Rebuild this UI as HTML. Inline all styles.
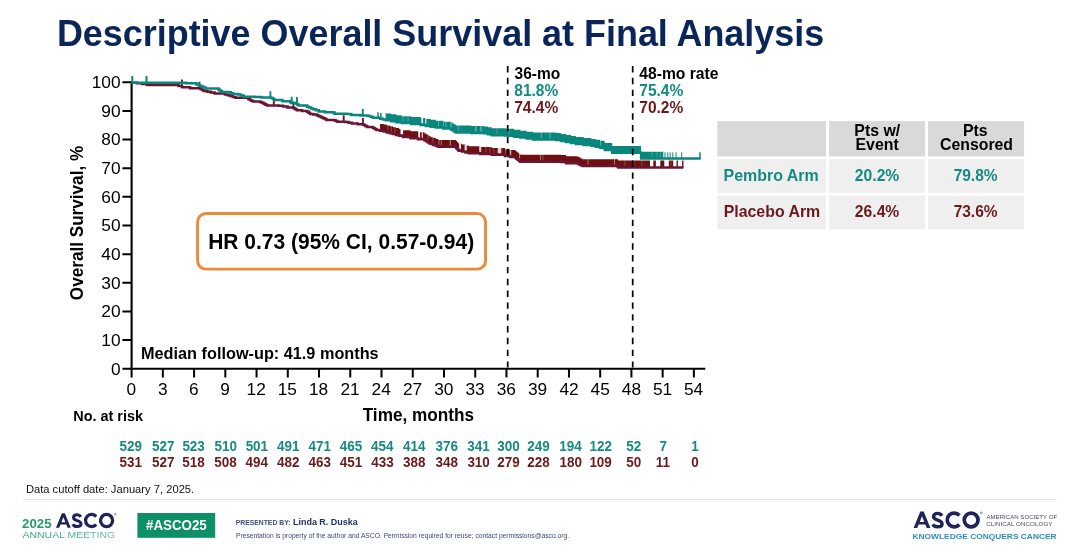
<!DOCTYPE html>
<html><head><meta charset="utf-8"><title>Descriptive Overall Survival at Final Analysis</title>
<style>
html,body{margin:0;padding:0;background:#fff;}
body{width:1080px;height:552px;overflow:hidden;}
svg{display:block;will-change:transform;font-family:"Liberation Sans",sans-serif;}
text{white-space:pre;}
</style></head><body>
<svg width="1080" height="552" viewBox="0 0 1080 552">
<rect width="1080" height="552" fill="#fff"/>
<text x="56.88" y="46.10" font-size="36.2" textLength="767.37" lengthAdjust="spacingAndGlyphs" fill="#0a2659" font-weight="bold">Descriptive Overall Survival at Final Analysis</text>
<path d="M131.60 81.30V369.70" stroke="#000" stroke-width="2.1" fill="none"/>
<path d="M130.60 368.70H705.3" stroke="#000" stroke-width="2.1" fill="none"/>
<path d="M122.40 368.70H131.60M122.40 340.06H131.60M122.40 311.42H131.60M122.40 282.78H131.60M122.40 254.14H131.60M122.40 225.50H131.60M122.40 196.86H131.60M122.40 168.22H131.60M122.40 139.58H131.60M122.40 110.94H131.60M122.40 82.30H131.60M131.60 368.70V377.50M162.84 368.70V377.50M194.08 368.70V377.50M225.32 368.70V377.50M256.56 368.70V377.50M287.79 368.70V377.50M319.03 368.70V377.50M350.27 368.70V377.50M381.51 368.70V377.50M412.75 368.70V377.50M443.99 368.70V377.50M475.23 368.70V377.50M506.47 368.70V377.50M537.71 368.70V377.50M568.95 368.70V377.50M600.19 368.70V377.50M631.42 368.70V377.50M662.66 368.70V377.50M693.90 368.70V377.50" stroke="#000" stroke-width="2" fill="none"/>
<text x="110.95" y="374.60" font-size="17.3" textLength="9.62" lengthAdjust="spacingAndGlyphs" fill="#000">0</text>
<text x="101.35" y="345.96" font-size="17.3" textLength="19.24" lengthAdjust="spacingAndGlyphs" fill="#000">10</text>
<text x="101.35" y="317.32" font-size="17.3" textLength="19.24" lengthAdjust="spacingAndGlyphs" fill="#000">20</text>
<text x="101.35" y="288.68" font-size="17.3" textLength="19.24" lengthAdjust="spacingAndGlyphs" fill="#000">30</text>
<text x="101.35" y="260.04" font-size="17.3" textLength="19.24" lengthAdjust="spacingAndGlyphs" fill="#000">40</text>
<text x="101.35" y="231.40" font-size="17.3" textLength="19.24" lengthAdjust="spacingAndGlyphs" fill="#000">50</text>
<text x="101.35" y="202.76" font-size="17.3" textLength="19.24" lengthAdjust="spacingAndGlyphs" fill="#000">60</text>
<text x="101.35" y="174.12" font-size="17.3" textLength="19.24" lengthAdjust="spacingAndGlyphs" fill="#000">70</text>
<text x="101.35" y="145.48" font-size="17.3" textLength="19.24" lengthAdjust="spacingAndGlyphs" fill="#000">80</text>
<text x="101.35" y="116.84" font-size="17.3" textLength="19.24" lengthAdjust="spacingAndGlyphs" fill="#000">90</text>
<text x="91.70" y="88.20" font-size="17.3" textLength="28.87" lengthAdjust="spacingAndGlyphs" fill="#000">100</text>
<text x="126.58" y="395.40" font-size="17.3" textLength="9.62" lengthAdjust="spacingAndGlyphs" fill="#000">0</text>
<text x="157.88" y="395.40" font-size="17.3" textLength="9.62" lengthAdjust="spacingAndGlyphs" fill="#000">3</text>
<text x="189.01" y="395.40" font-size="17.3" textLength="9.62" lengthAdjust="spacingAndGlyphs" fill="#000">6</text>
<text x="220.29" y="395.40" font-size="17.3" textLength="9.62" lengthAdjust="spacingAndGlyphs" fill="#000">9</text>
<text x="246.54" y="395.40" font-size="17.3" textLength="19.24" lengthAdjust="spacingAndGlyphs" fill="#000">12</text>
<text x="277.69" y="395.40" font-size="17.3" textLength="19.24" lengthAdjust="spacingAndGlyphs" fill="#000">15</text>
<text x="308.95" y="395.40" font-size="17.3" textLength="19.24" lengthAdjust="spacingAndGlyphs" fill="#000">18</text>
<text x="340.45" y="395.40" font-size="17.3" textLength="19.24" lengthAdjust="spacingAndGlyphs" fill="#000">21</text>
<text x="371.52" y="395.40" font-size="17.3" textLength="19.24" lengthAdjust="spacingAndGlyphs" fill="#000">24</text>
<text x="402.95" y="395.40" font-size="17.3" textLength="19.24" lengthAdjust="spacingAndGlyphs" fill="#000">27</text>
<text x="434.19" y="395.40" font-size="17.3" textLength="19.24" lengthAdjust="spacingAndGlyphs" fill="#000">30</text>
<text x="465.47" y="395.40" font-size="17.3" textLength="19.24" lengthAdjust="spacingAndGlyphs" fill="#000">33</text>
<text x="496.71" y="395.40" font-size="17.3" textLength="19.24" lengthAdjust="spacingAndGlyphs" fill="#000">36</text>
<text x="527.97" y="395.40" font-size="17.3" textLength="19.24" lengthAdjust="spacingAndGlyphs" fill="#000">39</text>
<text x="559.38" y="395.40" font-size="17.3" textLength="19.24" lengthAdjust="spacingAndGlyphs" fill="#000">42</text>
<text x="590.53" y="395.40" font-size="17.3" textLength="19.24" lengthAdjust="spacingAndGlyphs" fill="#000">45</text>
<text x="621.80" y="395.40" font-size="17.3" textLength="19.24" lengthAdjust="spacingAndGlyphs" fill="#000">48</text>
<text x="652.93" y="395.40" font-size="17.3" textLength="19.24" lengthAdjust="spacingAndGlyphs" fill="#000">51</text>
<text x="683.99" y="395.40" font-size="17.3" textLength="19.24" lengthAdjust="spacingAndGlyphs" fill="#000">54</text>
<text x="362.69" y="420.60" font-size="17.5" textLength="111.30" lengthAdjust="spacingAndGlyphs" fill="#000" font-weight="bold">Time, months</text>
<text transform="translate(82.7 300.19) rotate(-90)" font-size="17.6" font-weight="bold" textLength="154.36" lengthAdjust="spacingAndGlyphs">Overall Survival, %</text>
<text x="73.23" y="421.40" font-size="15" textLength="69.74" lengthAdjust="spacingAndGlyphs" fill="#000" font-weight="bold">No. at risk</text>
<text x="141.00" y="359.20" font-size="16.4" textLength="237.68" lengthAdjust="spacingAndGlyphs" fill="#000" font-weight="bold">Median follow-up: 41.9 months</text>
<text x="514.50" y="78.80" font-size="16" textLength="45.69" lengthAdjust="spacingAndGlyphs" fill="#000" font-weight="bold">36-mo</text>
<text x="514.35" y="95.70" font-size="16" textLength="43.85" lengthAdjust="spacingAndGlyphs" fill="#148a80" font-weight="bold">81.8%</text>
<text x="514.19" y="112.70" font-size="16" textLength="44.01" lengthAdjust="spacingAndGlyphs" fill="#6b191d" font-weight="bold">74.4%</text>
<text x="639.27" y="78.80" font-size="16" textLength="79.15" lengthAdjust="spacingAndGlyphs" fill="#000" font-weight="bold">48-mo rate</text>
<text x="639.24" y="95.70" font-size="16" textLength="44.06" lengthAdjust="spacingAndGlyphs" fill="#148a80" font-weight="bold">75.4%</text>
<text x="639.24" y="112.70" font-size="16" textLength="44.06" lengthAdjust="spacingAndGlyphs" fill="#6b191d" font-weight="bold">70.2%</text>
<rect x="197.55" y="213.45" width="288" height="55.7" rx="8.5" ry="8.5" fill="#fff" stroke="#ec8a3c" stroke-width="2.9"/>
<text x="208.18" y="249.00" font-size="21.2" textLength="265.98" lengthAdjust="spacingAndGlyphs" fill="#000" font-weight="bold">HR 0.73 (95% CI, 0.57-0.94)</text>
<path d="M380.0 123.2L380.1 123.2L380.1 123.9L383.8 123.9L383.8 124.6L386.8 124.6L386.8 125.5L389.9 125.5L389.9 126.3L392.9 126.3L392.9 127.2L396.0 127.2L396.0 128.0L399.0 128.0L399.0 128.9L403.0 128.9L403.0 130.2L410.5 130.2L410.5 131.3L418.0 131.3L418.0 132.3L424.5 132.3L424.5 133.4L426.1 133.4L426.1 134.3L427.6 134.3L427.6 135.3L429.2 135.3L429.2 136.3L430.8 136.3L430.8 137.2L433.3 137.2L433.3 138.1L435.9 138.1L435.9 139.0L438.4 139.0L438.4 139.9L456.2 139.9L456.2 141.0L457.0 141.0L457.0 141.9L457.9 141.9L457.9 142.9L458.7 142.9L458.7 143.8L462.1 143.8L462.1 144.6L465.5 144.6L465.5 145.5L468.9 145.5L468.9 146.3L480.3 146.3L480.3 147.1L491.7 147.1L491.7 147.9L505.0 147.9L505.0 149.2L510.1 149.2L510.1 150.0L515.3 150.0L515.3 150.7L516.3 150.7L516.3 151.5L517.3 151.5L517.3 152.3L518.3 152.3L518.3 153.2L519.3 153.2L519.3 154.0L520.3 154.0L520.3 154.8L560.9 154.8L560.9 155.0L566.0 155.0L566.0 156.3L577.4 156.3L577.4 156.7L579.1 156.7L579.1 157.5L580.8 157.5L580.8 158.4L582.5 158.4L582.5 159.2L616.7 159.2L616.7 158.7L617.5 158.7L617.5 159.7L618.3 159.7L618.3 160.6L650.0 160.6L650.0 167.5L618.3 167.5L618.3 166.6L617.5 166.6L617.5 165.6L616.7 165.6L616.7 166.1L582.5 166.1L582.5 165.3L580.8 165.3L580.8 164.4L579.1 164.4L579.1 163.6L577.4 163.6L577.4 163.2L566.0 163.2L566.0 161.9L560.9 161.9L560.9 161.7L520.3 161.7L520.3 160.9L519.3 160.9L519.3 160.1L518.3 160.1L518.3 159.2L517.3 159.2L517.3 158.4L516.3 158.4L516.3 157.6L515.3 157.6L515.3 156.9L510.1 156.9L510.1 156.1L505.0 156.1L505.0 154.8L491.7 154.8L491.7 154.0L480.3 154.0L480.3 153.2L468.9 153.2L468.9 152.4L465.5 152.4L465.5 151.5L462.1 151.5L462.1 150.7L458.7 150.7L458.7 149.8L457.9 149.8L457.9 148.8L457.0 148.8L457.0 147.9L456.2 147.9L456.2 146.8L438.4 146.8L438.4 145.9L435.9 145.9L435.9 145.0L433.3 145.0L433.3 144.1L430.8 144.1L430.8 143.2L429.2 143.2L429.2 142.2L427.6 142.2L427.6 141.2L426.1 141.2L426.1 140.3L424.5 140.3L424.5 139.2L418.0 139.2L418.0 138.2L410.5 138.2L410.5 137.1L403.0 137.1L403.0 135.8L399.0 135.8L399.0 134.9L396.0 134.9L396.0 134.1L392.9 134.1L392.9 133.2L389.9 133.2L389.9 132.4L386.8 132.4L386.8 131.5L383.8 131.5L383.8 130.8L380.1 130.8L380.1 130.1L380.0 130.1Z" fill="#6e1010"/>
<path d="M273.8 106.1v-6.9M293.4 108.4v-6.9M343.7 122.2v-6.9M362.9 124.8v-6.9" stroke="#6b1535" stroke-width="1.9" fill="none"/>
<path d="M654.0 168.0v-7.4M655.2 168.0v-7.4M661.0 168.0v-7.4M662.3 168.0v-7.4M663.6 168.0v-7.4M669.5 168.0v-7.4M671.0 168.0v-7.4M672.5 168.0v-7.4M677.2 168.0v-7.4M682.8 168.0v-7.4" stroke="#6e1010" stroke-width="1.4" fill="none"/>
<rect x="400.5" y="128.3" width="2.6" height="6.2" fill="#fff" fill-opacity="0.95"/><rect x="418.2" y="131.7" width="1.8" height="6.2" fill="#fff" fill-opacity="0.9"/><rect x="421.7" y="131.7" width="1.2" height="6.2" fill="#fff" fill-opacity="0.85"/><rect x="387.6" y="124.9" width="0.7" height="6.2" fill="#fff" fill-opacity="0.3"/><rect x="391.1" y="125.7" width="0.7" height="6.2" fill="#fff" fill-opacity="0.3"/><rect x="394.6" y="126.6" width="0.7" height="6.2" fill="#fff" fill-opacity="0.3"/><rect x="427.6" y="134.7" width="0.7" height="6.2" fill="#fff" fill-opacity="0.35"/><rect x="432.6" y="136.6" width="0.7" height="6.2" fill="#fff" fill-opacity="0.35"/><rect x="438.6" y="139.3" width="0.8" height="6.2" fill="#fff" fill-opacity="0.5"/><rect x="440.8" y="139.3" width="0.8" height="6.2" fill="#fff" fill-opacity="0.5"/><rect x="449.7" y="139.3" width="1.0" height="6.2" fill="#fff" fill-opacity="0.6"/><rect x="459.0" y="143.2" width="2.0" height="6.2" fill="#fff" fill-opacity="0.85"/><rect x="464.6" y="144.9" width="2.2" height="6.2" fill="#fff" fill-opacity="0.85"/><rect x="479.2" y="145.7" width="2.0" height="6.2" fill="#fff" fill-opacity="0.8"/><rect x="485.6" y="146.5" width="0.7" height="6.2" fill="#fff" fill-opacity="0.35"/><rect x="489.6" y="146.5" width="0.7" height="6.2" fill="#fff" fill-opacity="0.35"/><rect x="493.6" y="147.3" width="0.7" height="6.2" fill="#fff" fill-opacity="0.35"/><rect x="497.7" y="147.3" width="3.6" height="6.2" fill="#fff" fill-opacity="0.8"/><rect x="505.1" y="148.6" width="0.8" height="6.2" fill="#fff" fill-opacity="0.4"/><rect x="509.8" y="149.4" width="1.4" height="6.2" fill="#fff" fill-opacity="0.7"/><rect x="519.0" y="153.4" width="1.0" height="6.2" fill="#fff" fill-opacity="0.5"/><rect x="540.1" y="154.2" width="0.8" height="6.2" fill="#fff" fill-opacity="0.5"/><rect x="542.6" y="154.2" width="0.7" height="6.2" fill="#fff" fill-opacity="0.4"/><rect x="587.6" y="158.6" width="0.8" height="6.2" fill="#fff" fill-opacity="0.5"/><rect x="614.1" y="158.6" width="0.8" height="6.2" fill="#fff" fill-opacity="0.5"/><rect x="624.6" y="160.0" width="0.7" height="6.2" fill="#fff" fill-opacity="0.3"/><rect x="633.6" y="160.0" width="0.7" height="6.2" fill="#fff" fill-opacity="0.3"/><rect x="641.6" y="160.0" width="0.7" height="6.2" fill="#fff" fill-opacity="0.3"/>
<path d="M131.6 82.7L137.0 82.7L137.0 83.2L142.0 83.2L142.0 84.1L147.0 84.1L147.0 85.0L175.0 85.0L178.5 85.0L178.5 86.1L182.0 86.1L182.0 87.2L190.0 87.2L190.0 88.3L200.4 88.3L200.4 89.0L202.0 89.0L202.0 90.0L203.6 90.0L203.6 90.9L207.3 90.9L207.3 91.8L210.9 91.8L210.9 92.6L214.6 92.6L214.6 93.5L225.0 93.5L225.0 94.5L227.6 94.5L227.6 95.3L230.2 95.3L230.2 96.1L232.8 96.1L232.8 96.9L235.4 96.9L235.4 97.7L248.3 97.7L248.3 99.0L249.8 99.0L249.8 99.9L251.4 99.9L251.4 100.7L252.9 100.7L252.9 101.6L260.0 101.6L260.0 101.9L261.8 101.9L261.8 102.8L263.6 102.8L263.6 103.8L265.5 103.8L265.5 104.7L267.3 104.7L267.3 105.6L278.9 105.6L278.9 105.7L283.2 105.7L283.2 106.6L287.6 106.6L287.6 107.4L293.4 107.4L293.4 107.9L294.6 107.9L294.6 108.7L295.8 108.7L295.8 109.5L297.0 109.5L297.0 110.3L302.1 110.3L302.1 111.0L307.2 111.0L307.2 111.7L308.6 111.7L308.6 112.8L310.0 112.8L310.0 113.9L313.3 113.9L313.3 114.6L316.6 114.6L316.6 115.3L318.3 115.3L318.3 116.0L320.0 116.0L320.0 116.7L321.6 116.7L321.6 117.5L323.2 117.5L323.2 118.3L324.9 118.3L324.9 119.1L326.5 119.1L326.5 119.9L333.8 119.9L333.8 120.3L335.6 120.3L335.6 121.0L337.4 121.0L337.4 121.7L345.4 121.7L345.4 122.1L348.6 122.1L348.6 122.8L351.9 122.8L351.9 123.6L357.7 123.6L357.7 124.3L363.5 124.3L363.5 125.0L365.3 125.0L365.3 126.0L367.1 126.0L367.1 127.0L372.9 127.0L372.9 127.9L374.7 127.9L374.7 129.0L376.5 129.0L376.5 130.1L380.1 130.1L380.1 130.8L383.8 130.8L383.8 131.5L386.8 131.5L386.8 132.4L389.9 132.4L389.9 133.2L392.9 133.2L392.9 134.1L396.0 134.1L396.0 134.9L399.0 134.9L399.0 135.8L403.0 135.8L403.0 137.1L410.5 137.1L410.5 138.2L418.0 138.2L418.0 139.2L424.5 139.2L424.5 140.3L426.1 140.3L426.1 141.2L427.6 141.2L427.6 142.2L429.2 142.2L429.2 143.2L430.8 143.2L430.8 144.1L433.3 144.1L433.3 145.0L435.9 145.0L435.9 145.9L438.4 145.9L438.4 146.8L456.2 146.8L456.2 147.9L457.0 147.9L457.0 148.8L457.9 148.8L457.9 149.8L458.7 149.8L458.7 150.7L462.1 150.7L462.1 151.5L465.5 151.5L465.5 152.4L468.9 152.4L468.9 153.2L480.3 153.2L480.3 154.0L491.7 154.0L491.7 154.8L505.0 154.8L505.0 156.1L510.1 156.1L510.1 156.9L515.3 156.9L515.3 157.6L516.3 157.6L516.3 158.4L517.3 158.4L517.3 159.2L518.3 159.2L518.3 160.1L519.3 160.1L519.3 160.9L520.3 160.9L520.3 161.7L560.9 161.7L560.9 161.9L566.0 161.9L566.0 163.2L577.4 163.2L577.4 163.6L579.1 163.6L579.1 164.4L580.8 164.4L580.8 165.3L582.5 165.3L582.5 166.1L616.7 166.1L616.7 165.6L617.5 165.6L617.5 166.6L618.3 166.6L618.3 167.5L683.3 167.5" stroke="#6b1535" stroke-width="2.5" fill="none" stroke-linejoin="miter"/>
<path d="M181.9 86.6v-7.0M199.5 88.8v-7.0" stroke="#6b1535" stroke-width="1.8" fill="none"/>
<path d="M385.6 112.6L385.9 112.6L385.9 113.4L391.2 113.4L391.2 114.3L396.4 114.3L396.4 115.3L401.7 115.3L401.7 116.2L411.2 116.2L411.2 117.1L420.7 117.1L420.7 118.1L425.8 118.1L425.8 119.0L430.8 119.0L430.8 119.8L435.9 119.8L435.9 120.7L443.4 120.7L443.4 121.7L451.0 121.7L451.0 122.6L452.7 122.6L452.7 123.6L454.3 123.6L454.3 124.5L456.0 124.5L456.0 125.5L471.4 125.5L471.4 126.0L484.0 126.0L484.0 126.4L487.9 126.4L487.9 127.3L491.7 127.3L491.7 128.3L505.0 128.3L505.0 128.5L507.7 128.5L507.7 128.8L514.0 128.8L514.0 129.8L520.4 129.8L520.4 130.7L526.7 130.7L526.7 131.7L533.0 131.7L533.0 132.6L555.8 132.6L555.8 133.0L560.9 133.0L560.9 134.0L566.0 134.0L566.0 135.0L571.0 135.0L571.0 136.0L576.1 136.0L576.1 137.0L583.7 137.0L583.7 138.0L591.3 138.0L591.3 138.9L595.8 138.9L595.8 139.8L600.2 139.8L600.2 140.8L604.0 140.8L604.0 140.4L604.3 140.4L604.3 141.3L604.7 141.3L604.7 142.2L605.0 142.2L605.0 143.1L612.0 143.1L612.0 143.3L612.2 143.3L612.2 145.9L641.0 145.9L641.1 145.9L641.1 151.7L663.3 151.7L663.3 158.6L641.1 158.6L641.1 152.8L641.0 152.8L612.2 152.8L612.2 150.2L612.0 150.2L612.0 150.0L605.0 150.0L605.0 149.1L604.7 149.1L604.7 148.2L604.3 148.2L604.3 147.3L604.0 147.3L604.0 147.7L600.2 147.7L600.2 146.8L595.8 146.8L595.8 145.8L591.3 145.8L591.3 144.9L583.7 144.9L583.7 143.9L576.1 143.9L576.1 142.9L571.0 142.9L571.0 141.9L566.0 141.9L566.0 140.9L560.9 140.9L560.9 139.9L555.8 139.9L555.8 139.5L533.0 139.5L533.0 138.6L526.7 138.6L526.7 137.6L520.4 137.6L520.4 136.7L514.0 136.7L514.0 135.7L507.7 135.7L507.7 135.4L505.0 135.4L505.0 135.2L491.7 135.2L491.7 134.2L487.9 134.2L487.9 133.3L484.0 133.3L484.0 132.9L471.4 132.9L471.4 132.4L456.0 132.4L456.0 131.4L454.3 131.4L454.3 130.5L452.7 130.5L452.7 129.5L451.0 129.5L451.0 128.6L443.4 128.6L443.4 127.6L435.9 127.6L435.9 126.7L430.8 126.7L430.8 125.9L425.8 125.9L425.8 125.0L420.7 125.0L420.7 124.0L411.2 124.0L411.2 123.1L401.7 123.1L401.7 122.2L396.4 122.2L396.4 121.2L391.2 121.2L391.2 120.3L385.9 120.3L385.9 119.5L385.6 119.5Z" fill="#0a877d"/>
<path d="M132.3 83.2v-7.1M146.5 83.2v-7.1" stroke="#0a877d" stroke-width="2.0" fill="none"/>
<path d="M270.4 98.1v-6.8M291.7 103.5v-6.8M297.0 103.9v-6.8M362.8 115.9v-6.8" stroke="#0a877d" stroke-width="1.9" fill="none"/>
<path d="M378.0 118.3v-6.1M380.9 119.2v-6.1" stroke="#0a877d" stroke-width="1.5" fill="none"/>
<path d="M665.0 159.1v-6.8M667.8 159.1v-6.8M670.2 159.1v-6.8M672.8 159.1v-6.8M676.1 159.1v-6.8M681.7 159.1v-6.8" stroke="#0a877d" stroke-width="1.0" fill="none"/>
<path d="M700.0 159.1v-6.8" stroke="#0a877d" stroke-width="1.5" fill="none"/>
<rect x="402.6" y="115.6" width="0.8" height="6.2" fill="#fff" fill-opacity="0.35"/><rect x="407.6" y="115.6" width="0.8" height="6.2" fill="#fff" fill-opacity="0.35"/><rect x="421.3" y="117.5" width="1.8" height="6.2" fill="#fff" fill-opacity="0.9"/><rect x="425.2" y="118.4" width="1.2" height="6.2" fill="#fff" fill-opacity="0.85"/><rect x="438.0" y="120.1" width="0.8" height="6.2" fill="#fff" fill-opacity="0.4"/><rect x="443.1" y="121.1" width="0.8" height="6.2" fill="#fff" fill-opacity="0.35"/><rect x="445.6" y="121.1" width="0.8" height="6.2" fill="#fff" fill-opacity="0.4"/><rect x="450.6" y="122.0" width="0.9" height="6.2" fill="#fff" fill-opacity="0.5"/><rect x="458.3" y="124.9" width="0.8" height="6.2" fill="#fff" fill-opacity="0.4"/><rect x="475.3" y="125.4" width="1.0" height="6.2" fill="#fff" fill-opacity="0.55"/><rect x="480.5" y="125.4" width="1.0" height="6.2" fill="#fff" fill-opacity="0.55"/><rect x="496.6" y="127.7" width="0.7" height="6.2" fill="#fff" fill-opacity="0.3"/><rect x="508.6" y="128.2" width="0.7" height="6.2" fill="#fff" fill-opacity="0.3"/><rect x="540.9" y="132.0" width="0.8" height="6.2" fill="#fff" fill-opacity="0.45"/><rect x="549.6" y="132.0" width="0.8" height="6.2" fill="#fff" fill-opacity="0.45"/><rect x="600.1" y="140.2" width="0.8" height="6.2" fill="#fff" fill-opacity="0.4"/><rect x="651.6" y="151.1" width="0.7" height="6.2" fill="#fff" fill-opacity="0.3"/><rect x="656.6" y="151.1" width="0.7" height="6.2" fill="#fff" fill-opacity="0.3"/><rect x="660.1" y="151.1" width="0.7" height="6.2" fill="#fff" fill-opacity="0.3"/>
<path d="M131.6 82.7L165.0 82.7L186.0 82.7L186.0 83.3L196.5 83.3L196.5 84.6L198.8 84.6L198.8 85.6L201.1 85.6L201.1 86.6L203.3 86.6L203.3 87.6L205.6 87.6L205.6 88.6L218.5 88.6L218.5 89.6L219.6 89.6L219.6 90.4L220.7 90.4L220.7 91.1L221.8 91.1L221.8 91.9L228.9 91.9L228.9 92.2L230.9 92.2L230.9 93.2L232.8 93.2L232.8 94.1L238.0 94.1L238.0 94.5L240.9 94.5L240.9 95.6L243.8 95.6L243.8 96.7L255.0 96.7L255.0 96.9L261.5 96.9L261.5 97.6L271.0 97.6L271.0 98.0L272.8 98.0L272.8 99.0L274.6 99.0L274.6 100.1L282.5 100.1L282.5 101.2L289.8 101.2L289.8 101.6L290.5 101.6L290.5 102.3L291.2 102.3L291.2 103.0L295.6 103.0L295.6 103.4L297.1 103.4L297.1 104.5L298.5 104.5L298.5 105.6L307.2 105.6L307.2 106.7L309.1 106.7L309.1 107.5L311.1 107.5L311.1 108.4L313.0 108.4L313.0 109.2L315.9 109.2L315.9 110.3L318.8 110.3L318.8 111.4L325.0 111.4L325.0 112.2L333.0 112.2L333.0 112.5L334.5 112.5L334.5 113.8L346.8 113.8L346.8 113.9L351.2 113.9L351.2 115.1L360.6 115.1L360.6 115.4L367.8 115.4L367.8 115.9L370.4 115.9L370.4 116.8L372.9 116.8L372.9 117.8L380.1 117.8L380.1 118.7L383.0 118.7L383.0 119.5L385.9 119.5L385.9 120.3L391.2 120.3L391.2 121.2L396.4 121.2L396.4 122.2L401.7 122.2L401.7 123.1L411.2 123.1L411.2 124.0L420.7 124.0L420.7 125.0L425.8 125.0L425.8 125.9L430.8 125.9L430.8 126.7L435.9 126.7L435.9 127.6L443.4 127.6L443.4 128.6L451.0 128.6L451.0 129.5L452.7 129.5L452.7 130.5L454.3 130.5L454.3 131.4L456.0 131.4L456.0 132.4L471.4 132.4L471.4 132.9L484.0 132.9L484.0 133.3L487.9 133.3L487.9 134.2L491.7 134.2L491.7 135.2L505.0 135.2L505.0 135.4L507.7 135.4L507.7 135.7L514.0 135.7L514.0 136.7L520.4 136.7L520.4 137.6L526.7 137.6L526.7 138.6L533.0 138.6L533.0 139.5L555.8 139.5L555.8 139.9L560.9 139.9L560.9 140.9L566.0 140.9L566.0 141.9L571.0 141.9L571.0 142.9L576.1 142.9L576.1 143.9L583.7 143.9L583.7 144.9L591.3 144.9L591.3 145.8L595.8 145.8L595.8 146.8L600.2 146.8L600.2 147.7L604.0 147.7L604.0 147.3L604.3 147.3L604.3 148.2L604.7 148.2L604.7 149.1L605.0 149.1L605.0 150.0L612.0 150.0L612.0 150.2L612.2 150.2L612.2 152.8L641.0 152.8L641.1 152.8L641.1 158.6L700.6 158.6" stroke="#0a877d" stroke-width="2.5" fill="none" stroke-linejoin="miter"/>
<path d="M507.7 66V367.6" stroke="#000" stroke-width="1.7" stroke-dasharray="6.4 5.42" fill="none"/>
<path d="M632.7 66V367.6" stroke="#000" stroke-width="1.7" stroke-dasharray="6.4 5.42" fill="none"/>
<text x="119.59" y="450.70" font-size="14.1" textLength="22.47" lengthAdjust="spacingAndGlyphs" fill="#148a80" font-weight="bold">529</text>
<text x="152.04" y="450.70" font-size="14.1" textLength="22.47" lengthAdjust="spacingAndGlyphs" fill="#148a80" font-weight="bold">527</text>
<text x="182.39" y="450.70" font-size="14.1" textLength="22.47" lengthAdjust="spacingAndGlyphs" fill="#148a80" font-weight="bold">523</text>
<text x="214.42" y="450.70" font-size="14.1" textLength="22.47" lengthAdjust="spacingAndGlyphs" fill="#148a80" font-weight="bold">510</text>
<text x="245.64" y="450.70" font-size="14.1" textLength="22.47" lengthAdjust="spacingAndGlyphs" fill="#148a80" font-weight="bold">501</text>
<text x="276.96" y="450.70" font-size="14.1" textLength="22.47" lengthAdjust="spacingAndGlyphs" fill="#148a80" font-weight="bold">491</text>
<text x="308.46" y="450.70" font-size="14.1" textLength="22.47" lengthAdjust="spacingAndGlyphs" fill="#148a80" font-weight="bold">471</text>
<text x="339.66" y="450.70" font-size="14.1" textLength="22.47" lengthAdjust="spacingAndGlyphs" fill="#148a80" font-weight="bold">465</text>
<text x="371.11" y="450.70" font-size="14.1" textLength="22.47" lengthAdjust="spacingAndGlyphs" fill="#148a80" font-weight="bold">454</text>
<text x="402.91" y="450.70" font-size="14.1" textLength="22.47" lengthAdjust="spacingAndGlyphs" fill="#148a80" font-weight="bold">414</text>
<text x="435.56" y="450.70" font-size="14.1" textLength="22.47" lengthAdjust="spacingAndGlyphs" fill="#148a80" font-weight="bold">376</text>
<text x="467.31" y="450.70" font-size="14.1" textLength="22.47" lengthAdjust="spacingAndGlyphs" fill="#148a80" font-weight="bold">341</text>
<text x="497.29" y="450.70" font-size="14.1" textLength="22.47" lengthAdjust="spacingAndGlyphs" fill="#148a80" font-weight="bold">300</text>
<text x="527.27" y="450.70" font-size="14.1" textLength="22.47" lengthAdjust="spacingAndGlyphs" fill="#148a80" font-weight="bold">249</text>
<text x="559.19" y="450.70" font-size="14.1" textLength="22.47" lengthAdjust="spacingAndGlyphs" fill="#148a80" font-weight="bold">194</text>
<text x="589.42" y="450.70" font-size="14.1" textLength="22.47" lengthAdjust="spacingAndGlyphs" fill="#148a80" font-weight="bold">122</text>
<text x="626.18" y="450.70" font-size="14.1" textLength="14.98" lengthAdjust="spacingAndGlyphs" fill="#148a80" font-weight="bold">52</text>
<text x="659.46" y="450.70" font-size="14.1" textLength="7.49" lengthAdjust="spacingAndGlyphs" fill="#148a80" font-weight="bold">7</text>
<text x="691.13" y="450.70" font-size="14.1" textLength="7.49" lengthAdjust="spacingAndGlyphs" fill="#148a80" font-weight="bold">1</text>
<text x="119.54" y="466.60" font-size="14.1" textLength="22.47" lengthAdjust="spacingAndGlyphs" fill="#6b191d" font-weight="bold">531</text>
<text x="152.04" y="466.60" font-size="14.1" textLength="22.47" lengthAdjust="spacingAndGlyphs" fill="#6b191d" font-weight="bold">527</text>
<text x="182.36" y="466.60" font-size="14.1" textLength="22.47" lengthAdjust="spacingAndGlyphs" fill="#6b191d" font-weight="bold">518</text>
<text x="214.36" y="466.60" font-size="14.1" textLength="22.47" lengthAdjust="spacingAndGlyphs" fill="#6b191d" font-weight="bold">508</text>
<text x="245.61" y="466.60" font-size="14.1" textLength="22.47" lengthAdjust="spacingAndGlyphs" fill="#6b191d" font-weight="bold">494</text>
<text x="277.04" y="466.60" font-size="14.1" textLength="22.47" lengthAdjust="spacingAndGlyphs" fill="#6b191d" font-weight="bold">482</text>
<text x="308.51" y="466.60" font-size="14.1" textLength="22.47" lengthAdjust="spacingAndGlyphs" fill="#6b191d" font-weight="bold">463</text>
<text x="339.66" y="466.60" font-size="14.1" textLength="22.47" lengthAdjust="spacingAndGlyphs" fill="#6b191d" font-weight="bold">451</text>
<text x="371.31" y="466.60" font-size="14.1" textLength="22.47" lengthAdjust="spacingAndGlyphs" fill="#6b191d" font-weight="bold">433</text>
<text x="403.02" y="466.60" font-size="14.1" textLength="22.47" lengthAdjust="spacingAndGlyphs" fill="#6b191d" font-weight="bold">388</text>
<text x="435.52" y="466.60" font-size="14.1" textLength="22.47" lengthAdjust="spacingAndGlyphs" fill="#6b191d" font-weight="bold">348</text>
<text x="467.39" y="466.60" font-size="14.1" textLength="22.47" lengthAdjust="spacingAndGlyphs" fill="#6b191d" font-weight="bold">310</text>
<text x="497.17" y="466.60" font-size="14.1" textLength="22.47" lengthAdjust="spacingAndGlyphs" fill="#6b191d" font-weight="bold">279</text>
<text x="527.24" y="466.60" font-size="14.1" textLength="22.47" lengthAdjust="spacingAndGlyphs" fill="#6b191d" font-weight="bold">228</text>
<text x="559.42" y="466.60" font-size="14.1" textLength="22.47" lengthAdjust="spacingAndGlyphs" fill="#6b191d" font-weight="bold">180</text>
<text x="589.39" y="466.60" font-size="14.1" textLength="22.47" lengthAdjust="spacingAndGlyphs" fill="#6b191d" font-weight="bold">109</text>
<text x="626.18" y="466.60" font-size="14.1" textLength="14.98" lengthAdjust="spacingAndGlyphs" fill="#6b191d" font-weight="bold">50</text>
<text x="655.86" y="466.60" font-size="14.1" textLength="14.24" lengthAdjust="spacingAndGlyphs" fill="#6b191d" font-weight="bold">11</text>
<text x="691.36" y="466.60" font-size="14.1" textLength="7.49" lengthAdjust="spacingAndGlyphs" fill="#6b191d" font-weight="bold">0</text>
<rect x="717.3" y="121.1" width="108.7" height="35.3" fill="#d9d9d9"/>
<rect x="829.2" y="121.1" width="95.9" height="35.3" fill="#d9d9d9"/>
<rect x="928" y="121.1" width="96.1" height="35.3" fill="#d9d9d9"/>
<rect x="717.3" y="159.2" width="108.7" height="33.6" fill="#efefef"/>
<rect x="829.2" y="159.2" width="95.9" height="33.6" fill="#efefef"/>
<rect x="928" y="159.2" width="96.1" height="33.6" fill="#efefef"/>
<rect x="717.3" y="195.8" width="108.7" height="33.5" fill="#efefef"/>
<rect x="829.2" y="195.8" width="95.9" height="33.5" fill="#efefef"/>
<rect x="928" y="195.8" width="96.1" height="33.5" fill="#efefef"/>
<text x="854.33" y="135.85" font-size="16.1" textLength="45.82" lengthAdjust="spacingAndGlyphs" fill="#000" font-weight="bold">Pts w/</text>
<text x="855.53" y="150.10" font-size="16.1" textLength="43.18" lengthAdjust="spacingAndGlyphs" fill="#000" font-weight="bold">Event</text>
<text x="963.03" y="135.85" font-size="16.1" textLength="24.62" lengthAdjust="spacingAndGlyphs" fill="#000" font-weight="bold">Pts</text>
<text x="940.07" y="150.10" font-size="16.1" textLength="72.96" lengthAdjust="spacingAndGlyphs" fill="#000" font-weight="bold">Censored</text>
<text x="723.62" y="180.90" font-size="16.1" textLength="95.17" lengthAdjust="spacingAndGlyphs" fill="#148a80" font-weight="bold">Pembro Arm</text>
<text x="723.63" y="217.20" font-size="16.1" textLength="96.65" lengthAdjust="spacingAndGlyphs" fill="#6b191d" font-weight="bold">Placebo Arm</text>
<text x="854.85" y="180.90" font-size="16.1" textLength="44.45" lengthAdjust="spacingAndGlyphs" fill="#148a80" font-weight="bold">20.2%</text>
<text x="953.64" y="180.90" font-size="16.1" textLength="43.95" lengthAdjust="spacingAndGlyphs" fill="#148a80" font-weight="bold">79.8%</text>
<text x="854.85" y="217.30" font-size="16.1" textLength="44.45" lengthAdjust="spacingAndGlyphs" fill="#6b191d" font-weight="bold">26.4%</text>
<text x="953.64" y="217.30" font-size="16.1" textLength="43.95" lengthAdjust="spacingAndGlyphs" fill="#6b191d" font-weight="bold">73.6%</text>
<text x="25.88" y="492.90" font-size="11.4" textLength="168.33" lengthAdjust="spacingAndGlyphs" fill="#111">Data cutoff date: January 7, 2025.</text>
<path d="M22.9 499.5H1056.9" stroke="#e5e5e5" stroke-width="1.2"/>
<defs><linearGradient id="gm" x1="22" x2="115" y1="0" y2="0" gradientUnits="userSpaceOnUse"><stop offset="0" stop-color="#2f9f7e"/><stop offset="1" stop-color="#6fbfa9"/></linearGradient></defs>
<text x="22.14" y="527.70" font-size="12.2" textLength="29.46" lengthAdjust="spacingAndGlyphs" fill="#27996f" font-weight="bold">2025</text>
<g transform="translate(56 527.7) scale(0.879) translate(-913.6 -528.1)"><path d="M913.60 528.10L920.30 511.60L923.70 511.60L930.40 528.10L926.80 528.10L925.34 524.50L918.66 524.50L917.20 528.10ZM922.00 516.30L924.30 522.00L919.70 522.00Z" fill="#1c2458" fill-rule="evenodd"/><path d="M941.9 515.8C941 514.3 939.5 513.4 937.6 513.4C935.2 513.4 933.5 514.7 933.5 516.6C933.5 518.6 935.3 519.4 937.7 520.1C940.2 520.8 942.1 521.7 942.1 523.9C942.1 525.7 940.2 526.8 937.6 526.8C935.5 526.8 933.7 525.9 932.7 524.3" fill="none" stroke="#1c2458" stroke-width="3.4"/><path d="M959.35 515.45A6.9 6.9 0 1 0 959.35 524.45" fill="none" stroke="#1c2458" stroke-width="3.7"/><circle cx="971.15" cy="519.95" r="6.9" fill="none" stroke="#1c2458" stroke-width="3.7"/><circle cx="981.2" cy="512.8" r="0.9" fill="none" stroke="#1c2458" stroke-width="0.5"/></g>
<text x="22.57" y="538.30" font-size="9.9" textLength="92.52" lengthAdjust="spacingAndGlyphs" fill="url(#gm)">ANNUAL MEETING</text>
<rect x="137.4" y="513" width="77.8" height="24.8" fill="#0d8f68"/>
<text x="145.97" y="530.40" font-size="14.2" textLength="60.80" lengthAdjust="spacingAndGlyphs" fill="#fff" font-weight="bold">#ASCO25</text>
<text x="235.74" y="525.00" font-size="7.0" textLength="54.71" lengthAdjust="spacingAndGlyphs" fill="#3d4e79" font-weight="bold">PRESENTED BY:</text>
<text x="292.99" y="525.00" font-size="9.4" textLength="64.75" lengthAdjust="spacingAndGlyphs" fill="#1e3364" font-weight="bold">Linda R. Duska</text>
<text x="235.95" y="538.00" font-size="6.9" textLength="333.15" lengthAdjust="spacingAndGlyphs" fill="#3a4a75">Presentation is property of the author and ASCO. Permission required for reuse; contact permissions@asco.org.</text>
<g><path d="M913.60 528.10L920.30 511.60L923.70 511.60L930.40 528.10L926.80 528.10L925.34 524.50L918.66 524.50L917.20 528.10ZM922.00 516.30L924.30 522.00L919.70 522.00Z" fill="#1c2458" fill-rule="evenodd"/><path d="M941.9 515.8C941 514.3 939.5 513.4 937.6 513.4C935.2 513.4 933.5 514.7 933.5 516.6C933.5 518.6 935.3 519.4 937.7 520.1C940.2 520.8 942.1 521.7 942.1 523.9C942.1 525.7 940.2 526.8 937.6 526.8C935.5 526.8 933.7 525.9 932.7 524.3" fill="none" stroke="#1c2458" stroke-width="3.4"/><path d="M959.35 515.45A6.9 6.9 0 1 0 959.35 524.45" fill="none" stroke="#1c2458" stroke-width="3.7"/><circle cx="971.15" cy="519.95" r="6.9" fill="none" stroke="#1c2458" stroke-width="3.7"/><circle cx="981.2" cy="512.8" r="0.9" fill="none" stroke="#1c2458" stroke-width="0.5"/></g>
<text x="986.48" y="518.60" font-size="6.0" textLength="70.67" lengthAdjust="spacingAndGlyphs" fill="#434c6e">AMERICAN SOCIETY OF</text>
<text x="986.18" y="525.60" font-size="6.0" textLength="66.35" lengthAdjust="spacingAndGlyphs" fill="#434c6e">CLINICAL ONCOLOGY</text>
<text x="912.54" y="539.30" font-size="7.4" textLength="144.06" lengthAdjust="spacingAndGlyphs" fill="#2b8fbf" font-weight="bold">KNOWLEDGE CONQUERS CANCER</text>
</svg>
</body></html>
